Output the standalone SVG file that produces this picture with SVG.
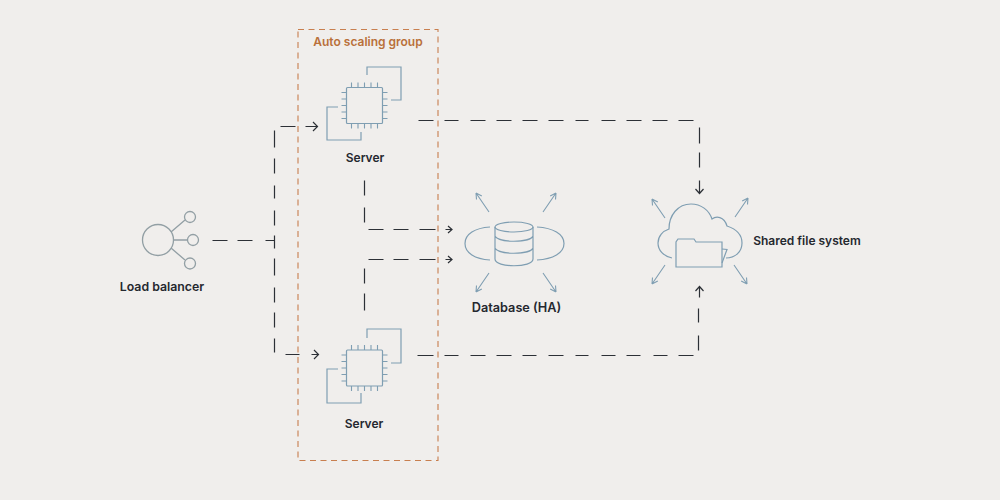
<svg xmlns="http://www.w3.org/2000/svg" width="1000" height="500" viewBox="0 0 1000 500">
<style>
text{font-family:"Inter","Liberation Sans",sans-serif;font-size:12px;font-weight:600;fill:#25282f;text-anchor:middle}
.i{fill:none;stroke:#7f9eb2;stroke-width:1.200}
.g{fill:none;stroke:#929fa4;stroke-width:1.300}
.c{fill:none;stroke:#2c3036;stroke-width:1.200}
.a{fill:none;stroke:#2c3036;stroke-width:1.200}
.r{fill:none;stroke:#7f9eb2;stroke-width:1.100}
</style>
<defs>
<g id="chip">
<rect class="i" x="-18" y="-18" width="36" height="36" rx="1"/>
<path class="r" d="M-13-18v-5M-6.500-18v-5M0-18v-5M6.500-18v-5M13-18v-5M-13 18v5M-6.500 18v5M0 18v5M6.500 18v5M13 18v5M-18-13h-5M-18-6.500h-5M-18 0h-5M-18 6.500h-5M-18 13h-5M18-13h5M18-6.500h5M18 0h5M18 6.500h5M18 13h5"/>
</g>
<path id="ray" class="r" d="M0 0L-13-19M-13-19l.5 6.500M-13-19l5.800 3"/>
</defs>
<rect width="1000" height="500" fill="#f0eeec"/>
<g id="group-box">
<rect x="298" y="29.500" width="140" height="431" fill="none" stroke="#c87f4f" stroke-width="1.100" stroke-dasharray="6 4.500"/>
<text x="368" y="46" style="fill:#b9703a">Auto scaling group</text>
</g>
<g id="connectors" transform="translate(.5 .5)">
<path class="c" d="M212 240h15M237 240h15M265 240h9"/>
<path class="c" d="M274 130v17M274 158v15M274 185v13M274 210v15M274 235v13M274 258v17M274 287v15M274 312v15M274 338v14"/>
<path class="c" d="M280 126h15M285 354h14"/>
<path class="a" d="M305 126h12M312.500 121.500l4.500 4.500-4.500 4.500M311 354h7M313.500 349.500l4.500 4.500-4.500 4.500"/>
<path class="c" d="M364 180v15M364 207v15M368 229h15M393 229h15M419 229h16"/>
<path class="c" d="M364 310v-17M364 283v-15M368 259h15M393 259h15M419 259h16"/>
<path class="a" d="M445 229h6.500M447.500 225.500l4 3.500-4 3.500M445 259h6.500M447.500 255.500l4 3.500-4 3.500"/>
<path class="c" d="M418 120h15M444 120h14M470 120h15M496 120h15M522 120h15M548 120h15M575 120h13M601 120h14M626 120h15M652 120h15M678 120h15M699 127v16M699 152v15"/>
<path class="c" d="M417 355h16M444 355h14M470 355h15M496 355h15M522 355h14M548 355h15M575 355h13M601 355h14M626 355h14M653 355h14M678 355h15M698 350v-15M698 322v-14"/>
<path class="a" d="M699 180v13M695 188.500l4 4.500 4-4.500M699 297v-11M695 290.500l4-4.500 4 4.500"/>
</g>
<g id="load-balancer">
<circle class="g" cx="158" cy="240" r="15.500"/>
<circle class="g" cx="190" cy="217" r="5.500"/>
<circle class="g" cx="193" cy="240" r="5.500"/>
<circle class="g" cx="190" cy="263.500" r="5.500"/>
<path class="g" d="M171 232L185 220M173.500 240H187.500M171 248L185 260"/>
<text x="162" y="291" style="font-size:12.300px">Load balancer</text>
</g>
<g id="server-top">
<use href="#chip" x="364.500" y="105.500"/>
<path class="i" d="M367 75V67H401V100H391M338 107H327V140H361V132"/>
<text x="365" y="162">Server</text>
</g>
<g id="server-bottom">
<use href="#chip" x="364.500" y="368"/>
<path class="i" d="M367 338V329H401V363H391M338 369H327V403H361V393"/>
<text x="364" y="428">Server</text>
</g>
<g id="database">
<ellipse class="i" cx="514" cy="227" rx="19" ry="5"/>
<path class="i" d="M495 227V259C495 268 533 268 533 259V227M495 236C498 243 530 243 533 236M495 248C498 255 530 255 533 248"/>
<path class="i" d="M490 227C475 228 465 234 465 243.500C465 253 475 259 490 260M537 227C553 228 564 234 564 243.500C564 253 553 259 537 260"/>
<use href="#ray" x="489" y="212"/>
<use href="#ray" transform="translate(543 212) scale(-1 1)"/>
<use href="#ray" transform="translate(489 273) scale(1 -1)"/>
<use href="#ray" transform="translate(543 273) scale(-1 -1)"/>
<text x="516.500" y="312" style="font-size:12.700px">Database (HA)</text>
</g>
<g id="shared-file-system">
<path class="i" d="M672 258C663 256 658 250 658 243C658 236 663 231 669 229C669 215 678 204 691 204C701 204 709 210 712 219C716 216 724 216 727 226C736 229 742 235 742 243C742 252 735 258 726 258"/>
<path class="i" d="M676 267V242L678 239H694L696 242H722V267Z"/>
<path class="i" d="M722 249L727 249.500L722 263"/>
<use href="#ray" x="665" y="218"/>
<use href="#ray" transform="translate(735 217) scale(-1 1)"/>
<use href="#ray" transform="translate(665 265) scale(1 -1)"/>
<use href="#ray" transform="translate(734 265) scale(-1 -1)"/>
<text x="807" y="245">Shared file system</text>
</g>
</svg>
